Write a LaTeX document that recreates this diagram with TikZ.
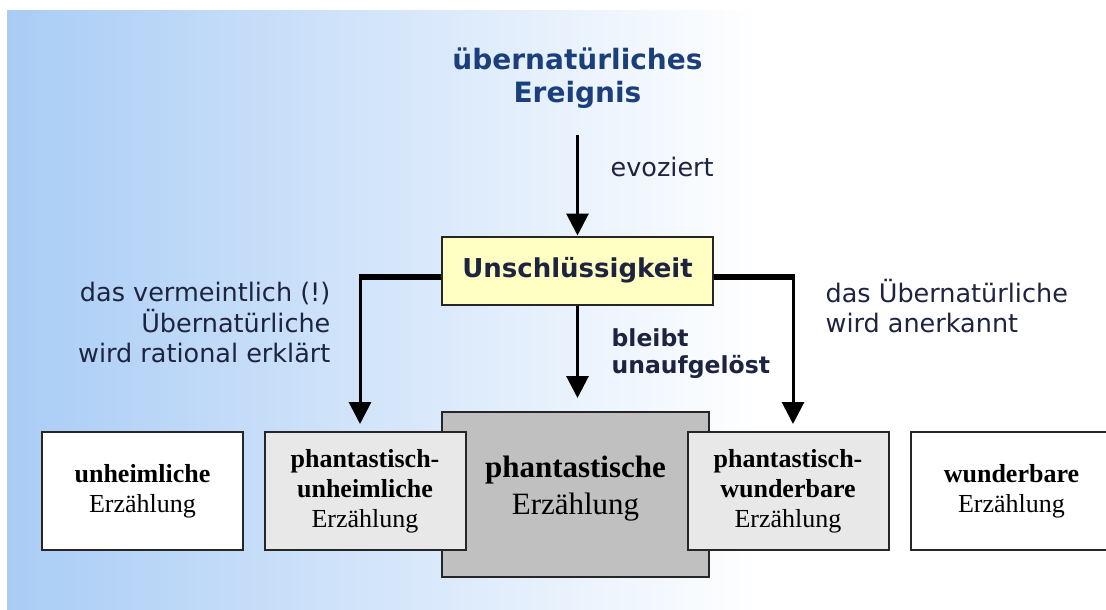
\documentclass[tikz,border=0pt]{standalone}
\usepackage{fontspec}
\setmainfont{DejaVu Sans}
\newfontfamily\boxserif{Liberation Serif}
\usetikzlibrary{arrows.meta}

\definecolor{bgblue}{HTML}{A9CCF5}
\definecolor{titleblue}{HTML}{1B3F7B}
\definecolor{labelink}{HTML}{1E2440}
\definecolor{doubtfill}{HTML}{FFFFC4}
\definecolor{fantgray}{HTML}{C0C0C0}
\definecolor{mixgray}{HTML}{E8E8E8}

\begin{document}
\begin{tikzpicture}[x=1pt,y=-1pt,>={Triangle[length=22pt,width=22pt]},
                    semithick]

  \tikzstyle{genre}=[rectangle,draw=black!85,line width=2pt,align=center,
                     inner sep=0pt,minimum width=201pt,minimum height=118pt,
                     font=\boxserif\fontsize{26}{30}\selectfont]
  \tikzstyle{remark}=[text=labelink,font=\fontsize{25.5}{30.5}\selectfont]
  \tikzstyle{arrow}=[->,line width=3pt]
  \tikzstyle{bar}=[line width=6pt]

  \useasboundingbox (0,0) rectangle (1106,610);
  \shade[left color=bgblue,right color=white] (7,11) rectangle (760,610);

  % top of the scheme
  \node[text=titleblue,align=center,font=\bfseries\fontsize{28}{33}\selectfont]
        (EV) at (577.5,78) {übernatürliches\\Ereignis};
  \node[draw=black!85,fill=doubtfill,line width=2pt,minimum width=271pt,
        minimum height=68pt,text=labelink,font=\bfseries\fontsize{26}{30}\selectfont]
        (UN) at (577.5,270.5) {Unschlüssigkeit};
  \node[remark,anchor=west] (EVO) at (607,167) {evoziert};

  % the five genres
  \node[genre,fill=fantgray,minimum width=267pt,minimum height=165pt] (PE) at (575.5,494.5) {};
  \node[font=\boxserif\fontsize{31}{37}\selectfont,align=center]
        (PEtext) at (575.5,488.5) {\textbf{phantastische}\\Erzählung};
  \node[genre,fill=white]   (UE)  at (142.5,491) {\textbf{unheimliche}\\Erzählung};
  \node[genre,fill=mixgray] (PUE) at (365,491)   {\textbf{phantastisch-}\\\textbf{unheimliche}\\Erzählung};
  \node[genre,fill=mixgray] (PWE) at (788,491)   {\textbf{phantastisch-}\\\textbf{wunderbare}\\Erzählung};
  \node[genre,fill=white]   (WE)  at (1011.5,491) {\textbf{wunderbare}\\Erzählung};

  % connectors
  \coordinate (lc) at (360,277);
  \coordinate (rc) at (793,277);
  \draw[arrow,shorten <=23pt] (EV) -- (UN);
  \draw[bar,shorten <=-1.5pt] (lc) -- (lc -| UN.west);
  \draw[bar,shorten <=-1.5pt] (rc) -- (rc -| UN.east);
  \draw[arrow,shorten >=7pt] (lc) -- (lc |- PUE.north);
  \draw[arrow,shorten >=7pt] (rc) -- (rc |- PWE.north);
  \draw[arrow,shorten >=13pt] (UN.south) -- (UN.south |- PE.north);

  \node[remark,align=right,anchor=east] (RAT) at (334,322.5)
        {das vermeintlich (!)\\Übernatürliche\\wird rational erklärt};
  \node[remark,align=left,anchor=west] (ANE) at (822,306)
        {das Übernatürliche\\wird anerkannt};
  \node[text=labelink,align=left,anchor=west,font=\bfseries\fontsize{23.5}{27}\selectfont]
        (BU) at (608,353.5) {bleibt\\unaufgelöst};
\end{tikzpicture}
\end{document}
